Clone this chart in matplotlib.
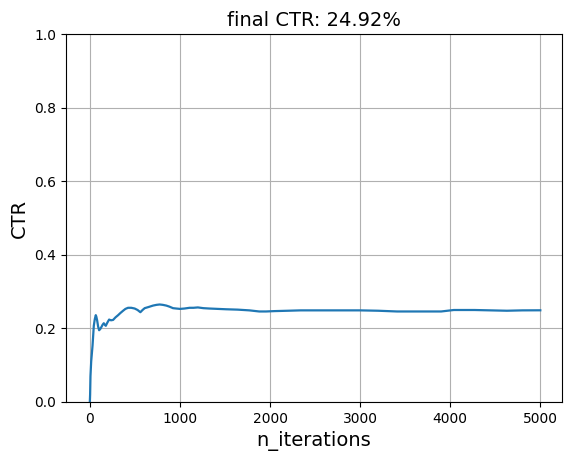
import matplotlib
matplotlib.use("Agg")
import matplotlib.pyplot as plt

# CTR curve (iteration, running CTR)
iters = [0, 3, 7, 15, 30, 44, 55, 66, 72, 81, 92, 103, 115, 129, 142, 155, 166, 177,
         195, 214, 235, 258, 285, 314, 340, 369, 395, 424, 460, 498, 530, 561, 585,
         609, 650, 701, 740, 775, 810, 849, 885, 923, 960, 1000, 1050, 1107, 1150,
         1199, 1260, 1328, 1420, 1513, 1640, 1771, 1880, 1956, 2050, 2200, 2340,
         2500, 2700, 3000, 3200, 3410, 3650, 3900, 4040, 4270, 4450, 4630, 4800, 5000]
ctr = [0.0, 0.02, 0.07, 0.11, 0.153, 0.207, 0.225, 0.236, 0.232, 0.222, 0.205,
       0.195, 0.198, 0.204, 0.210, 0.214, 0.210, 0.207, 0.216, 0.224, 0.222, 0.223,
       0.230, 0.236, 0.242, 0.248, 0.253, 0.256, 0.256, 0.254, 0.250, 0.244, 0.250,
       0.255, 0.258, 0.262, 0.264, 0.265, 0.264, 0.262, 0.259, 0.255, 0.254, 0.253,
       0.254, 0.256, 0.256, 0.257, 0.255, 0.254, 0.253, 0.252, 0.251, 0.249, 0.246,
       0.246, 0.247, 0.248, 0.249, 0.249, 0.249, 0.249, 0.248, 0.246, 0.246, 0.246,
       0.250, 0.250, 0.249, 0.248, 0.249, 0.2492]

final_ctr = ctr[-1]

fig = plt.figure(figsize=(5.72, 4.62), dpi=100)
ax = fig.add_axes([0.115, 0.130, 0.868, 0.796])
ax.plot(iters, ctr, color="#1f77b4", linewidth=1.6)
ax.set_ylim(0, 1)
ax.set_xlim(-267, 5244)
ax.set_xlabel("n_iterations", fontsize=14)
ax.set_ylabel("CTR", fontsize=14)
ax.set_title("final CTR: %.2f%%" % (final_ctr * 100), fontsize=14)
ax.grid(True)
fig.savefig("out.png", dpi=100)
